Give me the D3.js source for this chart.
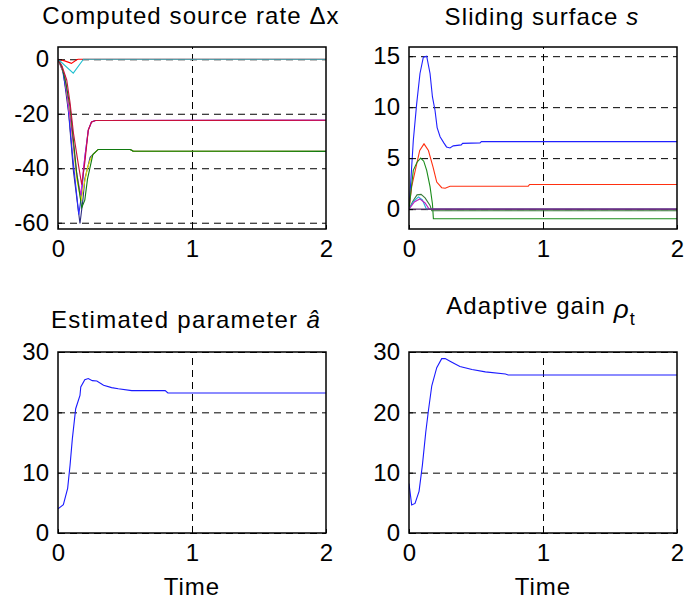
<!DOCTYPE html>
<html>
<head>
<meta charset="utf-8">
<script src="https://cdn.jsdelivr.net/npm/d3@7"></script>
<style>
  body { margin: 0; background: #fff; }
  svg { display: block; }
  text { font-family: "Liberation Sans", Arial, sans-serif; fill: #000; }
</style>
</head>
<body>
<svg id="fig" width="687" height="605"></svg>
<script>
// ---- data: [time, value] ----
const xTicks = [0, 1, 2];
const dxTicks = [-60, -40, -20, 0];
const sTicks = [0, 5, 10, 15];
const gainTicks = [0, 10, 20, 30];

// Computed source rate
const dxNavy = [[0,0],[0.04,-5],[0.08,-20],[0.115,-41],[0.164,-60.3],[0.185,-52],[0.2,-44],[0.24,-36],[0.28,-34],[0.3,-33.1],[0.54,-33.1],[0.56,-33.7],[2,-33.8]];
const dxBlue = [[0,0],[0.03,-3],[0.07,-14],[0.11,-36],[0.155,-57],[0.175,-50],[0.2,-36],[0.226,-26],[0.25,-23],[0.28,-22.5],[2,-22.4]];
const dxMagenta = [[0,0],[0.05,-6],[0.1,-25],[0.14,-42],[0.17,-50],[0.19,-40],[0.226,-26],[0.25,-23],[0.28,-22.5],[2,-22.4]];
const dxYellow = [[0,0],[0.05,-6],[0.1,-25],[0.14,-44],[0.172,-52],[0.19,-47],[0.22,-40],[0.24,-37],[0.26,-35],[0.3,-33.1],[0.54,-33.1],[0.56,-33.7],[2,-33.8]];
const dxGreen = [[0,0],[0.03,-3],[0.06,-9],[0.09,-17.4],[0.14,-42],[0.177,-54.5],[0.2,-51.7],[0.22,-44],[0.24,-39.5],[0.26,-35],[0.3,-33.1],[0.54,-33.1],[0.56,-33.7],[2,-33.8]];
const dxRed = [[0,0],[0.03,-2.5],[0.065,-7.6],[0.09,-16],[0.115,-27],[0.15,-38],[0.177,-46],[0.2,-38],[0.226,-26],[0.25,-23],[0.28,-22.5],[2,-22.4]];
const dxRedSmall = [[0,0],[0.05,-0.6],[0.1,-1.5],[0.14,-0.2],[0.15,0],[2,0]];
const dxCyan = [[0,0],[0.114,-5.1],[0.19,0],[2,0]];

// Sliding surface
const sBlue = [[0,0],[0.01,2],[0.032,6.7],[0.057,10.3],[0.082,13.3],[0.107,14.9],[0.132,15],[0.157,13.3],[0.175,11],[0.194,9.7],[0.21,8],[0.232,7.1],[0.26,6.5],[0.28,6.1],[0.306,6.0],[0.33,6.2],[0.39,6.3],[0.4,6.45],[0.53,6.5],[0.54,6.62],[2,6.62]];
const sRed = [[0,0],[0.02,2.2],[0.057,4.4],[0.08,5.75],[0.112,6.4],[0.145,5.75],[0.18,4.1],[0.207,2.65],[0.244,2.1],[0.27,2.05],[0.306,2.25],[0.89,2.25],[0.9,2.42],[2,2.42]];
const sGreen = [[0,0],[0.032,3.8],[0.06,4.6],[0.087,5.0],[0.11,4.7],[0.132,3.8],[0.157,2.2],[0.175,0.5],[0.182,-0.95],[2,-0.95]];
const sGreenSmall = [[0,0],[0.03,0.8],[0.06,1.4],[0.09,1.44],[0.12,1.1],[0.157,0.36],[0.17,-0.16],[2,-0.16]];
const sCyan = [[0,0],[0.03,0.7],[0.07,1.2],[0.1,0.9],[0.13,0],[2,0]];
const sMagenta = [[0,0],[0.04,0.7],[0.08,1.0],[0.12,0.6],[0.15,0],[2,0]];
const sFlat = [[0,0],[2,0]];

// Estimated parameter a-hat
const aHat = [[0,4.0],[0.04,4.7],[0.072,7.4],[0.09,11.25],[0.107,15.6],[0.132,20.6],[0.164,22.8],[0.17,24.2],[0.2,25.4],[0.226,25.6],[0.256,25.25],[0.29,25.2],[0.34,24.5],[0.4,24.1],[0.45,23.9],[0.55,23.6],[0.8,23.6],[0.82,23.2],[2,23.2]];

// Adaptive gain rho_t
const rhoT = [[0,8.2],[0.02,4.66],[0.045,4.9],[0.075,6.9],[0.1,11.25],[0.125,16.7],[0.145,20.3],[0.17,24.4],[0.207,27.4],[0.244,28.9],[0.27,28.9],[0.32,28.3],[0.38,27.6],[0.47,27.1],[0.57,26.7],[0.72,26.35],[0.74,26.2],[2,26.2]];

const svg = d3.select("#fig");
svg.append("rect").attr("width", 687).attr("height", 605).attr("fill", "#fff");

function panel(box, yDomain, yTicks, series) {
  const x = d3.scaleLinear().domain([0, 2]).range([box.left, box.right]);
  const y = d3.scaleLinear().domain(yDomain).range([box.bottom, box.top]);
  const w = box.right - box.left, h = box.bottom - box.top;
  const g = svg.append("g");

  // grid
  g.append("g")
    .attr("transform", `translate(0,${box.bottom})`)
    .call(d3.axisBottom(x).tickValues([1]).tickSize(-h).tickFormat(""))
    .call(a => a.select(".domain").remove())
    .selectAll("line").attr("stroke", "#000").attr("stroke-dasharray", "7,5");
  g.append("g")
    .attr("transform", `translate(${box.left},0)`)
    .call(d3.axisLeft(y).tickValues(yTicks).tickSize(-w).tickFormat(""))
    .call(a => a.select(".domain").remove())
    .selectAll("line").attr("stroke", "#000").attr("stroke-dasharray", "7,5");

  // lines
  const line = d3.line().x(d => x(d[0])).y(d => y(d[1]));
  const clipId = "clip" + box.left + "_" + box.top;
  g.append("clipPath").attr("id", clipId).append("rect")
    .attr("x", box.left).attr("y", box.top).attr("width", w).attr("height", h);
  g.append("g").attr("clip-path", `url(#${clipId})`)
    .selectAll("path").data(series).join("path")
    .attr("d", d => line(d.values))
    .attr("fill", "none")
    .attr("stroke", d => d.color)
    .attr("stroke-width", 1.1);

  // axes
  const xa = g.append("g")
    .attr("transform", `translate(0,${box.bottom})`)
    .call(d3.axisBottom(x).tickValues(xTicks).tickSize(-4).tickPadding(11).tickFormat(d3.format("d")));
  const ya = g.append("g")
    .attr("transform", `translate(${box.left},0)`)
    .call(d3.axisLeft(y).tickValues(yTicks).tickSize(-4).tickPadding(9).tickFormat(d => d < 0 ? "-" + Math.abs(d) : d));
  [xa, ya].forEach(a => {
    a.select(".domain").remove();
    a.selectAll("text").style("font-size", "24px").attr("fill", "#000");
    a.selectAll("line").attr("stroke", "#000");
  });

  g.append("rect")
    .attr("x", box.left).attr("y", box.top).attr("width", w).attr("height", h)
    .attr("fill", "none").attr("stroke", "#000").attr("stroke-width", 1.5);
  return g;
}

const TL = {left: 58, right: 326, top: 47, bottom: 229};
const TR = {left: 409, right: 677, top: 47, bottom: 229};
const BL = {left: 58, right: 326, top: 352, bottom: 533};
const BR = {left: 409, right: 677, top: 352, bottom: 533};

panel(TL, [-62.3, 4.5], dxTicks, [
  {values: dxNavy, color: "#2c2c80"},
  {values: dxBlue, color: "#2a2aff"},
  {values: dxYellow, color: "#e6e600"},
  {values: dxMagenta, color: "#d020d0"},
  {values: dxGreen, color: "#107a10"},
  {values: dxRed, color: "#c8103e"},
  {values: dxRedSmall, color: "#ff0000"},
  {values: dxCyan, color: "#20c0d0"}
]);

panel(TR, [-1.95, 15.9], sTicks, [
  {values: sBlue, color: "#2020ff"},
  {values: sRed, color: "#ff3010"},
  {values: sGreen, color: "#1a8c1a"},
  {values: sGreenSmall, color: "#3a7a3a"},
  {values: sCyan, color: "#20b0d8"},
  {values: sMagenta, color: "#c020c0"},
  {values: sFlat, color: "#5a3068"}
]);

panel(BL, [0, 30], gainTicks, [{values: aHat, color: "#1a1aff"}]);
panel(BR, [0, 30], gainTicks, [{values: rhoT, color: "#1a1aff"}]);

// titles
const fs = "24px", ls = "1.1px";
svg.append("text").attr("x", 191).attr("y", 24).attr("text-anchor", "middle")
  .style("font-size", fs).style("letter-spacing", ls).text("Computed source rate \u0394x");

const t2 = svg.append("text").attr("x", 542).attr("y", 25).attr("text-anchor", "middle")
  .style("font-size", fs).style("letter-spacing", ls);
t2.append("tspan").text("Sliding surface ");
t2.append("tspan").style("font-style", "italic").text("s");

const t3 = svg.append("text").attr("x", 186).attr("y", 328).attr("text-anchor", "middle")
  .style("font-size", fs).style("letter-spacing", "1.3px");
t3.append("tspan").text("Estimated parameter  ");
t3.append("tspan").style("font-style", "italic").text("\u00E2");

const t4 = svg.append("text").attr("x", 541).attr("y", 314).attr("text-anchor", "middle")
  .style("font-size", fs).style("letter-spacing", ls);
t4.append("tspan").text("Adaptive gain ");
t4.append("tspan").style("font-style", "italic").style("font-size", "26px").attr("dy", 4).text("\u03C1");
t4.append("tspan").style("font-size", "18px").attr("dy", 7).text("t");

// x labels
[192, 543].forEach(cx => {
  svg.append("text").attr("x", cx).attr("y", 595).attr("text-anchor", "middle")
    .style("font-size", fs).style("letter-spacing", "1px").text("Time");
});
</script>
</body>
</html>
